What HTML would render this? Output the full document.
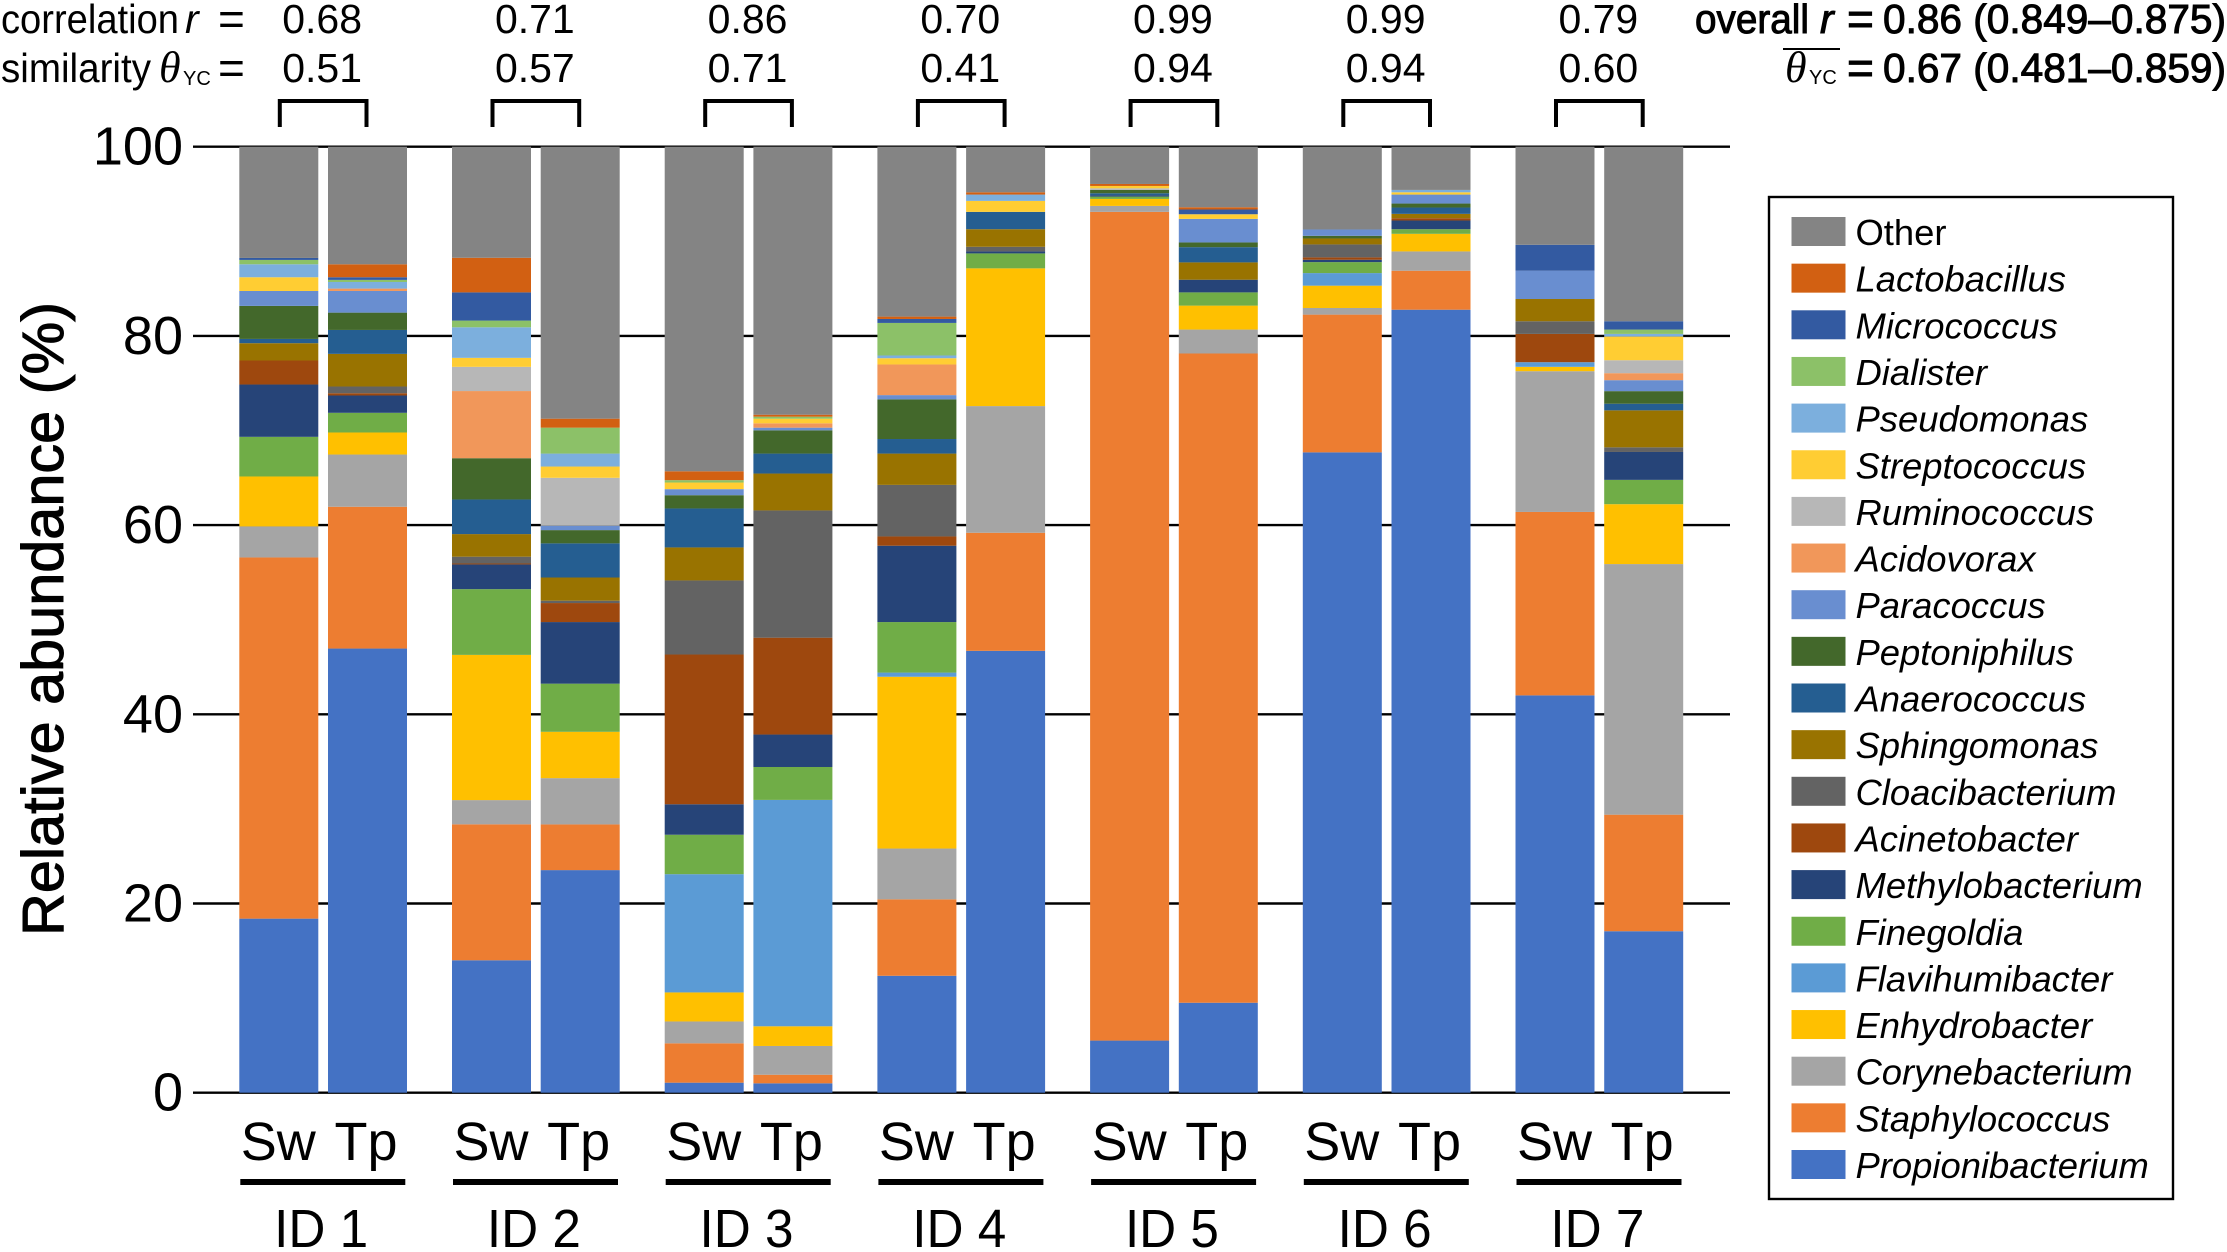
<!DOCTYPE html>
<html lang="en">
<head>
<meta charset="utf-8">
<title>Relative abundance by subject and sample type</title>
<style>
html,body{margin:0;padding:0;background:#fff;}
svg{display:block;font-family:"Liberation Sans",sans-serif;fill:#000;}
.semi{stroke:#000;stroke-width:1px;}
.it{font-style:italic;}
.th{font-family:"Liberation Serif",serif;font-style:italic;}
</style>
</head>
<body>
<svg id="chart" xmlns="http://www.w3.org/2000/svg" width="2227" height="1252" viewBox="0 0 2227 1252">
  <g font-size="41">
    <text x="1" y="33" textLength="178" lengthAdjust="spacingAndGlyphs">correlation</text>
    <text x="185" y="33" class="it">r</text>
    <text x="218" y="35" font-size="46">=</text>
    <text x="1" y="82" textLength="150" lengthAdjust="spacingAndGlyphs">similarity</text>
    <text x="159" y="82" class="th" font-size="44">θ</text>
    <text x="183" y="85" font-size="20">YC</text>
    <text x="218" y="84" font-size="46">=</text>
  </g>
  <g font-size="41">
    <text class="semi" x="1695" y="33" textLength="114" lengthAdjust="spacingAndGlyphs">overall</text>
    <text class="semi it" x="1820" y="33">r</text>
    <text class="semi" x="1847" y="35" font-size="46">=</text>
    <text class="semi" x="1883" y="33" textLength="343" lengthAdjust="spacingAndGlyphs">0.86 (0.849–0.875)</text>
    <line x1="1783" x2="1840" y1="49" y2="49" stroke="#000" stroke-width="2"/>
    <text class="th" x="1785" y="82" font-size="44">θ</text>
    <text x="1809" y="84" font-size="20">YC</text>
    <text class="semi" x="1847" y="84" font-size="46">=</text>
    <text class="semi" x="1883" y="82" textLength="343" lengthAdjust="spacingAndGlyphs">0.67 (0.481–0.859)</text>
  </g>
  <text class="semi" transform="translate(63,936) rotate(-90)" font-size="58" textLength="634" lengthAdjust="spacingAndGlyphs">Relative abundance (%)</text>
  <g id="grid"></g>
  <g id="yticks"></g>
  <g id="bars"></g>
  <g id="annot"></g>
  <g id="legend"></g>
</svg>
<script>
const seriesNames = ["Propionibacterium","Staphylococcus","Corynebacterium","Enhydrobacter","Flavihumibacter","Finegoldia","Methylobacterium","Acinetobacter","Cloacibacterium","Sphingomonas","Anaerococcus","Peptoniphilus","Paracoccus","Acidovorax","Ruminococcus","Streptococcus","Pseudomonas","Dialister","Micrococcus","Lactobacillus","Other"];
const seriesColors = ["#4472C4","#ED7D31","#A5A5A5","#FFC000","#5B9BD5","#70AD47","#264478","#9E480E","#636363","#997300","#255E91","#43682B","#698ED0","#F1975A","#B7B7B7","#FFCD33","#7CAFDD","#8CC168","#335AA1","#D26012","#848484"];
const groupLabels = ["ID 1","ID 2","ID 3","ID 4","ID 5","ID 6","ID 7"];
const sampleLabels = ["Sw","Tp"];
const yTicks = [0,20,40,60,80,100];
const correlationValues = ["0.68","0.71","0.86","0.70","0.99","0.99","0.79"];
const similarityValues = ["0.51","0.57","0.71","0.41","0.94","0.94","0.60"];

const id1Sw = [18.4,38.18,3.28,5.28,0,4.19,5.53,2.54,0,1.83,.45,3.49,1.58,0,0,1.45,1.37,.46,.21,0,11.76];
const id1Tp = [46.95,14.99,5.52,2.33,0,2.08,1.83,.24,.71,3.45,2.53,1.83,2.29,.25,0,0,.7,.22,.28,1.37,12.43];
const id2Sw = [14.0,14.37,2.56,15.35,0,6.95,2.61,.1,.72,2.39,3.66,4.36,0,7.10,2.56,.95,3.23,.71,2.98,3.66,11.74];
const id2Tp = [23.53,4.83,4.89,4.9,0,5.09,6.51,2.01,.25,2.45,3.61,1.4,.46,0,5.07,1.19,1.37,2.74,0,.95,28.75];
const id3Sw = [1.06,4.16,2.31,3.07,12.5,4.17,3.22,15.83,7.83,3.49,4.12,1.4,.64,0,0,.7,0,.25,0,.94,34.31];
const id3Tp = [.99,.91,3.04,2.08,23.93,3.48,3.43,10.24,13.45,3.9,2.11,2.46,.28,.46,0,.49,0,.21,0,.21,28.33];
const id4Sw = [12.36,8.08,5.37,18.16,.44,5.34,8.07,.98,5.45,3.31,1.54,4.19,.45,3.24,0,.66,.29,3.44,.42,.25,17.96];
const id4Tp = [46.71,12.48,13.39,14.56,0,1.58,.21,0,.49,1.86,1.83,0,0,0,0,1.16,.67,0,0,.24,4.82];
const id5Sw = [5.51,87.6,.63,.74,0,.25,.15,0,0,0,.2,.35,0,0,.17,.25,0,0,0,.21,3.94];
const id5Tp = [9.51,68.63,2.53,2.53,0,1.4,1.34,0,0,1.83,1.61,.5,2.49,0,0,.49,0,0,.5,.24,6.4];
const id6Sw = [67.69,14.56,.7,2.36,1.33,1.16,.25,.25,1.37,.63,0,.28,.67,0,0,0,0,0,0,0,8.75];
const id6Tp = [82.77,4.12,2.04,1.86,0,.49,.92,.24,0,.46,.67,.42,.95,0,0,.24,.25,0,0,0,4.57];
const id7Sw = [42.0,19.39,14.88,.46,.49,0,0,2.99,1.34,2.35,0,0,2.99,0,0,0,0,0,2.74,0,10.37];
const id7Tp = [17.07,12.32,26.49,6.33,0,2.57,2.95,0,.49,3.91,.7,1.33,1.16,.74,1.37,2.5,.28,.46,.88,0,18.45];
const barValues = [id1Sw,id1Tp,id2Sw,id2Tp,id3Sw,id3Tp,id4Sw,id4Tp,id5Sw,id5Tp,id6Sw,id6Tp,id7Sw,id7Tp];

const NS = "http://www.w3.org/2000/svg";
function yScale(v){ return 1092.7 - v * 9.46; }
function groupLeft(g){ return 239.3 + g * 212.7; }
function barLeft(i){ return groupLeft(Math.floor(i / 2)) + (i % 2) * 88.7; }
const BAR_W = 79;

function mk(tag, attrs, parent, txt){
  const el = document.createElementNS(NS, tag);
  for (const k in attrs) el.setAttribute(k, attrs[k]);
  if (txt !== undefined) el.textContent = txt;
  parent.appendChild(el);
  return el;
}

const gridG = document.getElementById("grid");
const tickG = document.getElementById("yticks");
yTicks.forEach(function(t){
  const ln = mk("line", {x1:193, x2:1730, y1:yScale(t), y2:yScale(t), stroke:"#000", "stroke-width":2.4}, gridG);
  
  
  const lb = mk("text", {x:183, y:yScale(t) + 18, "text-anchor":"end", "font-size":54}, tickG, String(t));
  
  
});

const barsG = document.getElementById("bars");
barValues.forEach(function(vals, i){
  const grp = mk("g", {}, barsG);
  const sampleName = groupLabels[Math.floor(i / 2)].replace(" ", "") + "-" + sampleLabels[i % 2];
  
  
  let cum = 0;
  vals.forEach(function(v, s){
    if (v <= 0) return;
    const top = yScale(cum + v), bottom = yScale(cum);
    const r = mk("rect", {x:barLeft(i), y:top, width:BAR_W, height:bottom - top, fill:seriesColors[s]}, grp);
    
    
    cum += v;
  });
});

const annotG = document.getElementById("annot");
groupLabels.forEach(function(label, g){
  const sw = groupLeft(g) + BAR_W / 2;
  const tp = sw + 88.7;
  const mid = (sw + tp) / 2;

  const corr = mk("text", {x:mid - 1, y:33, "text-anchor":"middle", "font-size":41}, annotG, correlationValues[g]);
  
  

  const sim = mk("text", {x:mid - 1, y:82, "text-anchor":"middle", "font-size":41}, annotG, similarityValues[g]);
  
  

  const br = mk("path", {d:"M" + (sw + 1) + " 127V101H" + (tp - 1) + "V127", fill:"none", stroke:"#000", "stroke-width":4}, annotG);
  
  

  const swT = mk("text", {x:sw - 0.5, y:1160, "text-anchor":"middle", "font-size":54}, annotG, sampleLabels[0]);
  
  

  const tpT = mk("text", {x:tp - 1.5, y:1160, "text-anchor":"middle", "font-size":54}, annotG, sampleLabels[1]);
  
  

  const ul = mk("rect", {x:groupLeft(g) + 1, y:1179, width:165, height:6, fill:"#000"}, annotG);
  
  

  const idT = mk("text", {x:mid - 2, y:1247, "text-anchor":"middle", "font-size":54, textLength:94, lengthAdjust:"spacingAndGlyphs"}, annotG, label);
  
  
});

const legG = document.getElementById("legend");
const box = mk("rect", {x:1769, y:197, width:404, height:1002, fill:"#fff", stroke:"#000", "stroke-width":2.4}, legG);


seriesNames.slice().reverse().forEach(function(name, idx){
  const s = seriesNames.length - 1 - idx;
  const top = 217 + idx * 46.65;
  const sw = mk("rect", {x:1791.5, y:top, width:54, height:29, fill:seriesColors[s]}, legG);
  
  
  const attrs = {x:1855.5, y:top + 28, "font-size":36.4};
  if (name !== "Other") attrs["font-style"] = "italic";
  const t = mk("text", attrs, legG, name);
  
  
});
</script>
</body>
</html>
